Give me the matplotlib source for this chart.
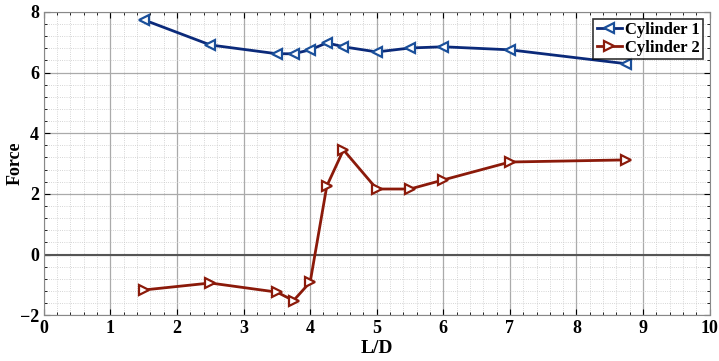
import matplotlib
matplotlib.use("Agg")
import matplotlib.pyplot as plt
from matplotlib.ticker import MultipleLocator

x = [1.5, 2.5, 3.5, 3.75, 4.0, 4.25, 4.5, 5.0, 5.5, 6.0, 7.0, 8.75]
cyl1 = [7.74, 6.91, 6.62, 6.62, 6.75, 6.98, 6.85, 6.68, 6.81, 6.85, 6.75, 6.29]
cyl2 = [-1.17, -0.94, -1.24, -1.52, -0.91, 2.26, 3.45, 2.16, 2.16, 2.46, 3.05, 3.12]
labels = ["Cylinder 1", "Cylinder 2"]

plt.rcParams['font.family'] = ['Liberation Serif', 'DejaVu Serif']
plt.rcParams['font.weight'] = 'bold'

fig = plt.figure(figsize=(7.19, 3.61), dpi=100)
ax = fig.add_axes([0.061, 0.127, 0.926, 0.84])

ax.plot(x, cyl1, color='#0b2a7a', lw=2, marker='<', ms=6.5, mfc='white',
        mec='#1a4f9a', mew=1.6, label=labels[0], zorder=3)
ax.plot(x, cyl2, color='#8b1a0a', lw=2, marker='>', ms=6.5, mfc='white',
        mec='#8b1a0a', mew=1.6, label=labels[1], zorder=3)

ax.axhline(0, color='#555555', lw=1.5, zorder=2)

ax.set_xlim(0, 10)
ax.set_ylim(-2, 8)
ax.xaxis.set_major_locator(MultipleLocator(1))
ax.xaxis.set_minor_locator(MultipleLocator(0.2))
ax.yaxis.set_major_locator(MultipleLocator(2))
ax.yaxis.set_minor_locator(MultipleLocator(0.4))
ax.grid(which='major', color='#aaaaaa', lw=0.9, ls='-')
ax.grid(which='minor', color='#c8c8c8', lw=0.6, ls=':')
ax.tick_params(which='both', direction='in', top=True, right=True)
ax.tick_params(which='major', length=4, labelsize=13)
ax.tick_params(which='minor', length=2)
for lab in ax.get_xticklabels() + ax.get_yticklabels():
    lab.set_fontweight('bold')
for s in ax.spines.values():
    s.set_color('#888888')

ax.set_xlabel('L/D', fontsize=14, fontweight='bold', labelpad=2)
ax.set_ylabel('Force', fontsize=13, fontweight='bold')
ax.yaxis.set_label_coords(-0.030, 0.5)

leg = ax.legend(loc='upper right', fontsize=12, frameon=True, fancybox=False,
                edgecolor='black', handlelength=1.5, handletextpad=0.2,
                borderpad=0.2, labelspacing=0.1, borderaxespad=0.4)
leg.get_frame().set_linewidth(1.2)
for t in leg.get_texts():
    t.set_fontweight('bold')

fig.savefig('out.png', dpi=100)
